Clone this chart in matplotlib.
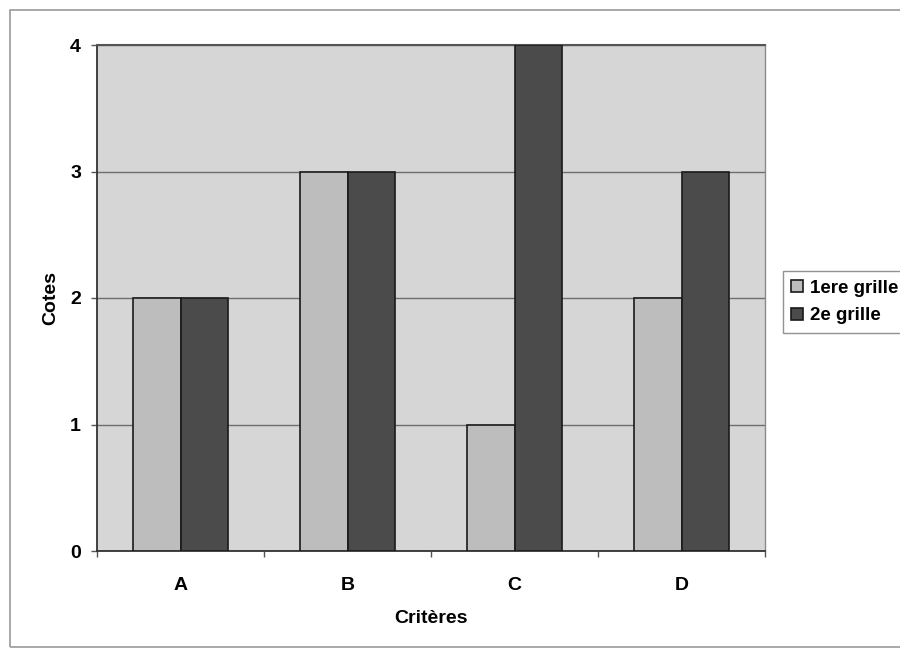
import matplotlib
matplotlib.use("Agg")
import matplotlib.pyplot as plt
import numpy as np
from matplotlib.patches import Rectangle

categories = ["A", "B", "C", "D"]
grille1 = [2, 3, 1, 2]
grille2 = [2, 3, 4, 3]
series_names = ["1ere grille", "2e grille"]
yticks = [0, 1, 2, 3, 4]

plt.rcParams["font.family"] = ["Liberation Sans", "DejaVu Sans"]
plt.rcParams["font.weight"] = "bold"

W, H = 900, 652
fig = plt.figure(figsize=(W / 100, H / 100), dpi=100)
fig.patch.set_facecolor("white")

# outer chart frame
fig.patches.append(Rectangle((10 / W, 1 - 647 / H), 1.2, (647 - 10) / H,
                             transform=fig.transFigure, fill=False,
                             edgecolor="#9a9a9a", linewidth=1.2))

ax = fig.add_axes([97 / W, 1 - 551 / H, (765 - 97) / W, (551 - 45) / H])
ax.set_facecolor("#d6d6d6")

x = np.arange(len(categories))
bw = 0.285
ax.bar(x - bw / 2, grille1, bw, color="#bdbdbd", edgecolor="#1a1a1a",
       linewidth=1.2, label=series_names[0], zorder=3)
ax.bar(x + bw / 2, grille2, bw, color="#4b4b4b", edgecolor="#1a1a1a",
       linewidth=1.2, label=series_names[1], zorder=3)

ax.set_xlim(-0.5, len(categories) - 0.5)
ax.set_ylim(0, 4)
ax.set_yticks(yticks)
ax.set_yticklabels([str(v) for v in yticks], fontsize=14, fontweight="bold")
ax.set_xticks(x)
ax.set_xticklabels(categories, fontsize=14, fontweight="bold")
ax.set_xticks(np.arange(len(categories) + 1) - 0.5, minor=True)
ax.tick_params(axis="x", which="major", length=0, pad=19)
ax.tick_params(axis="x", which="minor", length=4.5, width=1, color="#555555")
ax.tick_params(axis="y", length=4.5, width=1, color="#555555", pad=7)

ax.yaxis.grid(True, color="#6e6e6e", linewidth=1.0, zorder=1)
ax.set_axisbelow(True)

for side in ["left", "bottom"]:
    ax.spines[side].set_color("#333333")
    ax.spines[side].set_linewidth(1.3)
ax.spines["top"].set_color("#555555")
ax.spines["top"].set_linewidth(1.5)
ax.spines["right"].set_color("#8a8a8a")
ax.spines["right"].set_linewidth(1.0)

ax.set_xlabel("Critères", fontsize=14, fontweight="bold", labelpad=11)
ax.set_ylabel("Cotes", fontsize=14, fontweight="bold", labelpad=8)

leg = fig.legend(loc="center left", bbox_to_anchor=(783 / W, 1 - 302 / H),
                 fontsize=13.5, frameon=True, fancybox=False,
                 handlelength=0.6, handleheight=0.6, handletextpad=0.4,
                 borderpad=0.45, labelspacing=0.55, borderaxespad=0)
leg.get_frame().set_edgecolor("#777777")
leg.get_frame().set_linewidth(1.0)
for t in leg.get_texts():
    t.set_fontweight("bold")

fig.savefig("out.png", dpi=100)
